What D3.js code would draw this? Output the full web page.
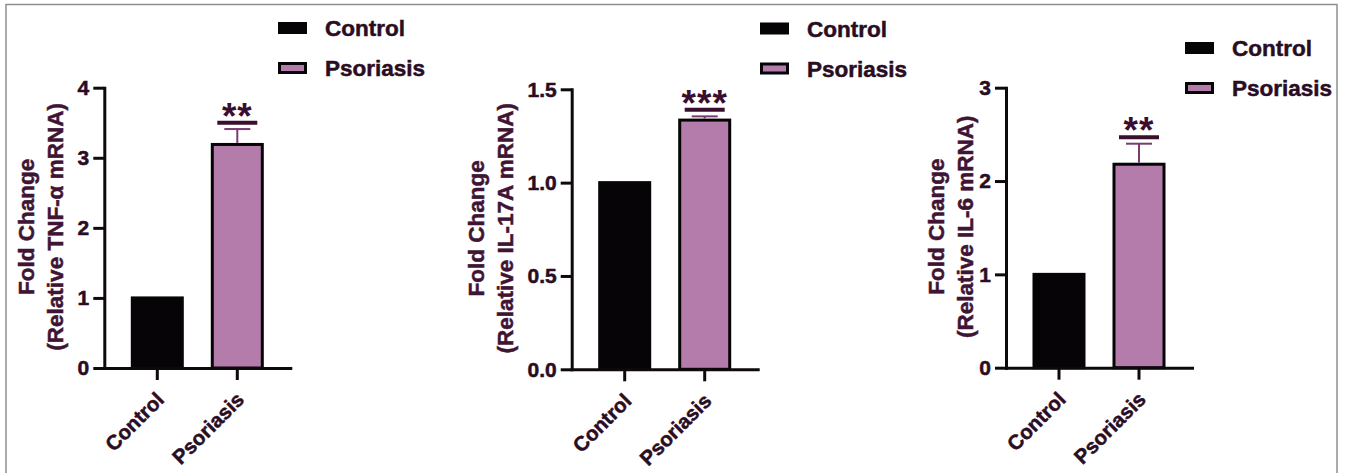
<!DOCTYPE html>
<html>
<head>
<meta charset="utf-8">
<script src="https://cdn.jsdelivr.net/npm/d3@7"></script>
<style>
  html, body { margin: 0; padding: 0; background: #fff; }
  svg { display: block; }
  text { font-family: "Liberation Sans", Arial, Helvetica, sans-serif; font-weight: bold; }
</style>
</head>
<body>
<svg id="chart" width="1346" height="473"></svg>
<script>
// ---------- data ----------
const categories = ["Control", "Psoriasis"];
const tnfValues = [1, 3.19];
const tnfErrors = [0, 0.22];
const il17Values = [1, 1.335];
const il17Errors = [0, 0.02];
const il6Values = [1, 2.18];
const il6Errors = [0, 0.22];
const significanceLabels = ["**", "***", "**"];
const significanceLevels = [3.5, 1.39, 2.47];
const tnfTicks = [0, 1, 2, 3, 4];
const il17Ticks = [0, 0.5, 1.0, 1.5];
const il6Ticks = [0, 1, 2, 3];
const yMaxima = [4, 1.5, 3];
const tickFormats = ["d", ".1f", "d"];
const titleLine1 = ["Fold Change", "Fold Change", "Fold Change"];
const titleLine2 = ["(Relative TNF-α mRNA)", "(Relative IL-17A mRNA)", "(Relative IL-6 mRNA)"];
const legendLabels = ["Control", "Psoriasis"];

// ---------- styles / layout ----------
const colors = { control: "#060406", psoriasis: "#b37caa", axis: "#0e090c",
  tick: "#2a0d22", title: "#3f1434", err: "#7a3b70", sig: "#3a0e2e", border: "#8f8f8f" };

const panels = [
  { values: tnfValues, errors: tnfErrors, ticks: tnfTicks, axisX: 104.3, y0: 368, yTop: 87.7,
    t1: 70, t2: 41, legX: 278, legY: 22 },
  { values: il17Values, errors: il17Errors, ticks: il17Ticks, axisX: 571.7, y0: 369.3, yTop: 89.3,
    t1: 88, t2: 59, legX: 760, legY: 22.5 },
  { values: il6Values, errors: il6Errors, ticks: il6Ticks, axisX: 1006, y0: 367.7, yTop: 87.7,
    t1: 62, t2: 33, legX: 1185, legY: 42 }
];

const svg = d3.select("#chart");

// outer border (frame)
svg.append("rect")
  .attr("x", 6).attr("y", 4.5).attr("width", 1331).attr("height", 480)
  .attr("fill", "none").attr("stroke", colors.border).attr("stroke-width", 1.5);

function thicken(sel, col) {
  return sel.attr("stroke", col).attr("stroke-width", 0.5).attr("paint-order", "stroke");
}

panels.forEach((p, i) => {
  const g = svg.append("g");
  const y = d3.scaleLinear().domain([0, yMaxima[i]]).range([p.y0, p.yTop]);
  const x = d3.scaleBand().domain(categories)
    .range([p.axisX, p.axisX + 186]).paddingInner(0.375).paddingOuter(0.35);

  // bars
  g.selectAll("rect.bar").data(categories).join("rect")
    .attr("class", "bar")
    .attr("x", d => x(d))
    .attr("width", x.bandwidth())
    .attr("y", (d, j) => y(p.values[j]))
    .attr("height", (d, j) => p.y0 - y(p.values[j]))
    .attr("fill", (d, j) => j === 0 ? colors.control : colors.psoriasis)
    .attr("stroke", colors.control)
    .attr("stroke-width", 3);

  // error bars
  categories.forEach((c, j) => {
    const e = p.errors[j];
    if (!e) return;
    const cx = x(c) + x.bandwidth() / 2;
    g.append("line")
      .attr("x1", cx).attr("x2", cx)
      .attr("y1", y(p.values[j]) - 1.5).attr("y2", y(p.values[j] + e))
      .attr("stroke", colors.err).attr("stroke-width", 2);
    g.append("line")
      .attr("x1", cx - 13).attr("x2", cx + 13)
      .attr("y1", y(p.values[j] + e)).attr("y2", y(p.values[j] + e))
      .attr("stroke", colors.err).attr("stroke-width", 2);
  });

  // significance
  const sx = x(categories[1]) + x.bandwidth() / 2;
  const sy = y(significanceLevels[i]);
  g.append("line")
    .attr("x1", sx - 20).attr("x2", sx + 20)
    .attr("y1", sy).attr("y2", sy)
    .attr("stroke", colors.sig).attr("stroke-width", 4);
  const starSize = 37;
  g.append("text")
    .attr("x", sx).attr("y", sy - 15 + starSize * 0.575)
    .attr("text-anchor", "middle")
    .attr("font-size", starSize)
    .attr("letter-spacing", 1)
    .attr("fill", colors.sig)
    .text(significanceLabels[i]);

  // y axis
  const yAxis = d3.axisLeft(y).tickValues(p.ticks).tickSize(11).tickSizeOuter(0)
    .tickPadding(4).tickFormat(d3.format(tickFormats[i]));
  const ya = g.append("g").attr("transform", `translate(${p.axisX},0)`).call(yAxis);
  ya.select(".domain").attr("stroke", colors.axis).attr("stroke-width", 3).attr("stroke-linecap", "square");
  ya.selectAll(".tick line").attr("stroke", colors.axis).attr("stroke-width", 3);
  thicken(ya.selectAll(".tick text").attr("fill", colors.tick).attr("font-size", 21)
    .attr("font-family", "'Liberation Sans', Arial, sans-serif").attr("font-weight", "bold"), colors.tick);

  // x axis
  const xAxis = d3.axisBottom(x).tickSize(12).tickSizeOuter(0).tickFormat("");
  const xa = g.append("g").attr("transform", `translate(0,${p.y0})`).call(xAxis);
  xa.select(".domain").attr("stroke", colors.axis).attr("stroke-width", 3).attr("stroke-linecap", "square");
  xa.selectAll(".tick line").attr("stroke", colors.axis).attr("stroke-width", 3);

  // rotated category labels
  thicken(g.selectAll("text.xlab").data(categories).join("text")
    .attr("class", "xlab")
    .attr("transform", d => `translate(${x(d) + x.bandwidth() / 2 + 8},${p.y0 + 33}) rotate(-45)`)
    .attr("text-anchor", "end")
    .attr("font-size", 20.5)
    .attr("fill", colors.tick)
    .text(d => d), colors.tick);

  // axis titles
  const cy = (p.y0 + p.yTop) / 2 - 1;
  [[titleLine1[i], p.t1], [titleLine2[i], p.t2]].forEach(([t, off]) => {
    thicken(g.append("text")
      .attr("transform", `translate(${p.axisX - off},${cy}) rotate(-90)`)
      .attr("text-anchor", "middle")
      .attr("font-size", 22.5)
      .attr("fill", colors.title)
      .text(t), colors.title);
  });

  // legend
  legendLabels.forEach((lab, j) => {
    const ly = p.legY + j * 40;
    g.append("rect")
      .attr("x", p.legX + (j ? 1.5 : 0)).attr("y", ly + (j ? 1.5 : 0))
      .attr("width", j ? 26 : 29).attr("height", j ? 9 : 12)
      .attr("fill", j ? colors.psoriasis : colors.control)
      .attr("stroke", j ? colors.control : "none")
      .attr("stroke-width", 3);
    thicken(g.append("text")
      .attr("x", p.legX + 47).attr("y", ly + 14)
      .attr("font-size", 22.5)
      .attr("fill", colors.tick)
      .text(lab), colors.tick);
  });
});
</script>
</body>
</html>
